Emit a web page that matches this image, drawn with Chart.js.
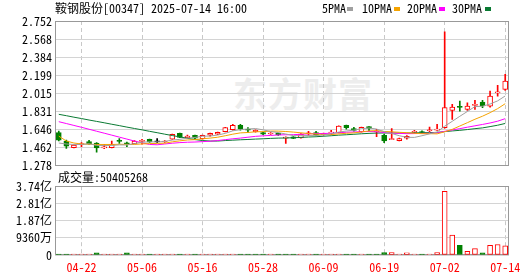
<!DOCTYPE html>
<html>
<head>
<meta charset="utf-8">
<script src="https://cdn.jsdelivr.net/npm/chart.js"></script>
<style>
  html, body { margin: 0; padding: 0; background: #fff; }
  #wrap { position: relative; width: 530px; height: 276px; overflow: hidden;
          font: 12px "Noto Sans Mono CJK SC", "DejaVu Sans Mono", monospace; color: #000; }
  #wrap canvas { position: absolute; left: 0; }
  .t { position: absolute; white-space: nowrap; line-height: 14px; }
  .sw { position: absolute; top: 7px; width: 6px; height: 4px; }
  #mark { position: absolute; left: 233px; top: 68px; font: bold 34px "Noto Sans CJK SC", sans-serif;
          color: #ededed; letter-spacing: 1px; }
</style>
</head>
<body>
<div id="wrap">
  <div id="mark">东方财富</div>
  <canvas id="k" width="530" height="176" style="top:0"></canvas>
  <canvas id="v" width="530" height="100" style="top:176px"></canvas>
  <div class="t" style="left:55px;top:1px">鞍钢股份[00347] 2025-07-14 16:00</div>
  <div class="t" style="left:322px;top:1px">5PMA</div><div class="sw" style="left:347px;background:#a0a0a0"></div>
  <div class="t" style="left:362px;top:1px">10PMA</div><div class="sw" style="left:394px;background:#f5a300"></div>
  <div class="t" style="left:407px;top:1px">20PMA</div><div class="sw" style="left:439px;background:#ff00ff"></div>
  <div class="t" style="left:452px;top:1px">30PMA</div><div class="sw" style="left:485px;background:#0a7a33"></div>
  <div class="t" style="left:58px;top:170px">成交量:50405268</div>
</div>
<script>
const dates = [
  '04-15','04-16','04-17','04-22','04-23','04-24','04-25','04-28','04-29','04-30',
  '05-02','05-06','05-07','05-08','05-09','05-12','05-13','05-14','05-15','05-16',
  '05-19','05-20','05-21','05-22','05-23','05-26','05-27','05-28','05-29','05-30',
  '06-02','06-03','06-04','06-05','06-06','06-09','06-10','06-11','06-12','06-13',
  '06-16','06-17','06-18','06-19','06-20','06-23','06-24','06-25','06-26','06-27',
  '06-30','07-02','07-03','07-04','07-07','07-08','07-09','07-10','07-11','07-14'
];

const opens = [
  1.616,1.530,1.463,1.494,1.525,1.510,1.460,1.463,1.533,1.507,
  1.504,1.527,1.547,1.522,1.520,1.550,1.608,1.565,1.588,1.555,
  1.590,1.600,1.626,1.645,1.690,1.645,1.626,1.616,1.602,1.608,
  1.560,1.573,1.562,1.604,1.616,1.595,1.610,1.616,1.690,1.656,
  1.625,1.676,1.622,1.588,1.545,1.534,1.560,1.618,1.627,1.635,
  1.640,1.666,1.842,1.878,1.852,1.893,1.927,1.886,2.020,2.056
];
const highs = [
  1.632,1.540,1.492,1.514,1.537,1.515,1.497,1.530,1.554,1.520,
  1.535,1.547,1.550,1.554,1.535,1.600,1.612,1.590,1.590,1.590,
  1.610,1.620,1.670,1.700,1.700,1.666,1.645,1.620,1.615,1.610,
  1.573,1.575,1.605,1.628,1.628,1.610,1.639,1.686,1.692,1.669,
  1.672,1.678,1.649,1.598,1.656,1.560,1.585,1.640,1.635,1.673,
  1.700,2.642,1.903,1.937,1.920,1.944,1.944,2.038,2.096,2.208
];
const lows = [
  1.530,1.455,1.460,1.473,1.494,1.418,1.453,1.460,1.507,1.473,
  1.500,1.497,1.517,1.514,1.515,1.547,1.565,1.558,1.550,1.550,
  1.580,1.595,1.622,1.640,1.640,1.616,1.620,1.595,1.597,1.588,
  1.505,1.553,1.558,1.588,1.585,1.590,1.595,1.612,1.650,1.630,
  1.620,1.635,1.575,1.514,1.543,1.530,1.548,1.610,1.612,1.626,
  1.637,1.660,1.751,1.835,1.842,1.852,1.869,1.876,1.988,2.046
];
const closes = [
  1.540,1.479,1.489,1.499,1.504,1.460,1.466,1.497,1.527,1.502,
  1.530,1.532,1.520,1.522,1.528,1.598,1.568,1.581,1.558,1.588,
  1.608,1.618,1.666,1.690,1.650,1.640,1.639,1.600,1.607,1.592,
  1.570,1.556,1.600,1.610,1.590,1.603,1.618,1.683,1.665,1.638,
  1.669,1.658,1.628,1.530,1.549,1.554,1.578,1.624,1.617,1.641,
  1.652,1.870,1.876,1.872,1.886,1.899,1.888,1.988,2.032,2.140
];
const volumes = [
  4500000,4200000,3800000,3500000,4000000,12000000,3600000,3800000,4500000,11500000,
  4000000,3500000,3200000,3000000,3300000,4500000,4000000,3500000,3600000,3800000,
  3500000,3700000,5000000,4800000,4500000,3600000,3300000,3500000,3200000,3400000,
  4200000,3600000,4000000,3500000,3700000,3300000,3800000,5000000,4300000,3500000,
  4200000,3600000,4000000,12500000,13000000,5000000,12000000,4500000,4000000,4800000,
  12500000,347000000,108000000,52000000,20000000,35000000,12000000,52000000,57000000,50405268
];

const ma5 = [
  1.510,1.500,1.495,1.495,1.502,1.486,1.484,1.485,1.491,1.490,
  1.504,1.518,1.522,1.521,1.526,1.540,1.547,1.559,1.567,1.579,
  1.581,1.591,1.608,1.634,1.646,1.653,1.657,1.644,1.627,1.616,
  1.602,1.585,1.585,1.586,1.585,1.592,1.604,1.621,1.632,1.641,
  1.655,1.663,1.652,1.625,1.607,1.584,1.568,1.567,1.584,1.603,
  1.622,1.681,1.731,1.782,1.831,1.881,1.884,1.907,1.939,1.989
];
const ma10 = [
  1.580,1.530,1.510,1.500,1.497,1.495,1.495,1.495,1.497,1.496,
  1.495,1.501,1.504,1.506,1.508,1.522,1.532,1.541,1.544,1.553,
  1.560,1.569,1.584,1.600,1.613,1.617,1.624,1.626,1.631,1.631,
  1.627,1.621,1.614,1.606,1.600,1.597,1.595,1.603,1.609,1.613,
  1.623,1.633,1.636,1.628,1.624,1.619,1.615,1.609,1.605,1.605,
  1.603,1.624,1.649,1.683,1.717,1.752,1.783,1.819,1.860,1.910
];
const ma20 = [
  1.727,1.708,1.689,1.670,1.650,1.630,1.610,1.590,1.570,1.550,
  1.530,1.512,1.495,1.492,1.500,1.508,1.514,1.518,1.520,1.524,
  1.528,1.535,1.544,1.553,1.560,1.569,1.578,1.583,1.587,1.592,
  1.594,1.595,1.599,1.603,1.606,1.607,1.609,1.614,1.620,1.622,
  1.625,1.627,1.625,1.617,1.612,1.608,1.605,1.606,1.607,1.609,
  1.613,1.629,1.643,1.656,1.671,1.685,1.699,1.714,1.732,1.758
];
const ma30 = [
  1.802,1.788,1.773,1.759,1.744,1.730,1.716,1.701,1.687,1.672,
  1.658,1.644,1.629,1.615,1.600,1.586,1.572,1.558,1.545,1.535,
  1.530,1.530,1.535,1.539,1.543,1.546,1.550,1.553,1.557,1.560,
  1.561,1.564,1.567,1.571,1.574,1.579,1.584,1.590,1.594,1.599,
  1.604,1.608,1.611,1.612,1.612,1.611,1.611,1.613,1.615,1.616,
  1.618,1.626,1.633,1.639,1.647,1.656,1.664,1.677,1.691,1.709
];

const priceTicks = [1.278, 1.46225, 1.6465, 1.83075, 2.015, 2.19925, 2.3835, 2.56775, 2.752];
const priceTickLabels = ['1.278','1.462','1.646','1.831','2.015','2.199','2.384','2.568','2.752'];
const volTicks = [0, 93600000, 187200000, 280800000, 374400000];
const volTickLabels = ['0','9360万','1.87亿','2.81亿','3.74亿'];

const FONT = '"Noto Sans Mono CJK SC", "DejaVu Sans Mono", monospace';
const UP = '#ff0000', DOWN = '#008000', FLAT = '#000000';
const candleColor = closes.map((c, i) => c > opens[i] ? UP : (c < opens[i] ? DOWN : FLAT));
const volColor = closes.map((c, i) => i === 0 ? DOWN : (c >= closes[i - 1] ? UP : DOWN));

Chart.defaults.font.family = FONT;
Chart.defaults.font.size = 12;
Chart.defaults.color = '#000';

const frame = {
  id: 'frame',
  beforeDatasetsDraw(chart) {
    const { ctx, chartArea: a } = chart;
    ctx.save();
    ctx.strokeStyle = '#999';
    ctx.lineWidth = 1;
    ctx.strokeRect(Math.round(a.left) + 0.5, Math.round(a.top) + 0.5,
      Math.round(a.right - a.left) - 1, Math.round(a.bottom - a.top) - 1);
    ctx.restore();
  }
};

const vGrid = c => (c.index % 8 === 3 ? '#c8c8c8' : 'rgba(0,0,0,0)');

const kChart = new Chart(document.getElementById('k'), {
  type: 'bar',
  data: {
    labels: dates,
    datasets: [
      { type: 'line', data: ma5, borderColor: '#a0a0a0', borderWidth: 1, pointRadius: 0, order: 0 },
      { type: 'line', data: ma10, borderColor: '#f5a300', borderWidth: 1, pointRadius: 0, order: 0 },
      { type: 'line', data: ma20, borderColor: '#ff00ff', borderWidth: 1, pointRadius: 0, order: 0 },
      { type: 'line', data: ma30, borderColor: '#0a7a33', borderWidth: 1, pointRadius: 0, order: 0 },
      {
        data: opens.map((o, i) => [o, closes[i]]),
        backgroundColor: candleColor.map(c => (c === UP ? '#ffffff' : c)),
        borderColor: candleColor,
        borderWidth: 1,
        borderSkipped: false,
        barThickness: 5,
        minBarLength: 1,
        grouped: false,
        order: 1
      },
      {
        data: lows.map((l, i) => [l, highs[i]]),
        backgroundColor: candleColor,
        borderWidth: 0,
        barThickness: 1,
        grouped: false,
        order: 2
      }
    ]
  },
  options: {
    responsive: false,
    animation: false,
    devicePixelRatio: 1,
    layout: { padding: { top: 21, right: 21, bottom: 10, left: 0 } },
    plugins: { legend: { display: false }, tooltip: { enabled: false } },
    scales: {
      x: {
        offset: true,
        grid: { offset: false, drawTicks: false, color: vGrid },
        border: { display: false, dash: [4, 3] },
        ticks: { display: false },
        afterFit: s => { s.height = 0; }
      },
      y: {
        min: 1.278,
        max: 2.752,
        afterBuildTicks: s => { s.ticks = priceTicks.map(v => ({ value: v })); },
        afterFit: s => { s.width = 55; },
        grid: { drawTicks: false, color: '#d4d4d4' },
        border: { display: false },
        ticks: { autoSkip: false, padding: 3, color: '#000', callback: (v, i) => priceTickLabels[i] }
      }
    }
  },
  plugins: [frame]
});

const vChart = new Chart(document.getElementById('v'), {
  type: 'bar',
  data: {
    labels: dates,
    datasets: [{
      data: volumes,
      backgroundColor: volColor.map(c => (c === UP ? '#ffffff' : c)),
      borderColor: volColor,
      borderWidth: 1,
      borderSkipped: false,
      barThickness: 5,
      minBarLength: 1
    }]
  },
  options: {
    responsive: false,
    animation: false,
    devicePixelRatio: 1,
    layout: { padding: { top: 10, right: 21, bottom: 0, left: 0 } },
    plugins: { legend: { display: false }, tooltip: { enabled: false } },
    scales: {
      x: {
        offset: true,
        grid: { offset: false, drawTicks: false, color: vGrid },
        border: { display: false, dash: [4, 3] },
        ticks: {
          autoSkip: false, maxRotation: 0, minRotation: 0, padding: 5, color: '#ff0000',
          callback: (v, i) => (i % 8 === 3 ? dates[i] : '')
        },
        afterFit: s => { s.height = 21; }
      },
      y: {
        min: 0,
        max: 374400000,
        afterBuildTicks: s => { s.ticks = volTicks.map(v => ({ value: v })); },
        afterFit: s => { s.width = 55; },
        grid: { drawTicks: false, color: '#d4d4d4' },
        border: { display: false },
        ticks: { autoSkip: false, padding: 3, color: '#000', callback: (v, i) => volTickLabels[i] }
      }
    }
  },
  plugins: [frame]
});
</script>
</body>
</html>
